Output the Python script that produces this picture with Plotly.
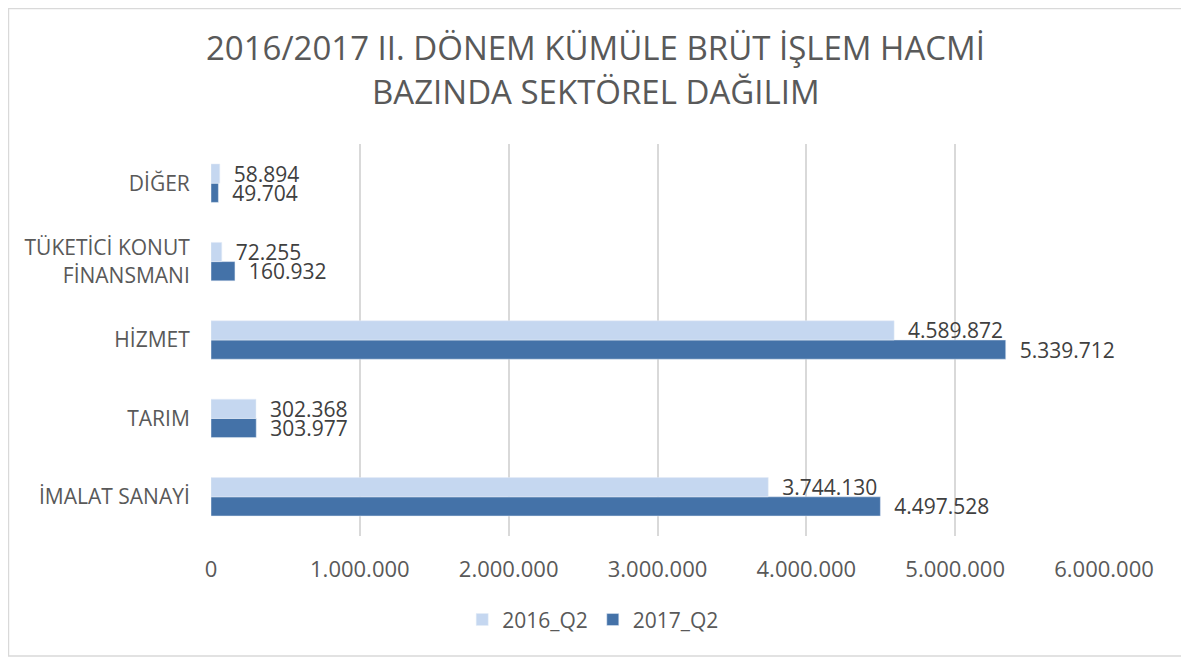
import plotly.graph_objects as go

categories = ["İMALAT SANAYİ", "TARIM", "HİZMET", "TÜKETİCİ KONUT<br>FİNANSMANI", "DİĞER"]
values_2016 = [3744130, 302368, 4589872, 72255, 58894]
values_2017 = [4497528, 303977, 5339712, 160932, 49704]
tick_vals = [0, 1000000, 2000000, 3000000, 4000000, 5000000, 6000000]
title_lines = ["2016/2017 II. DÖNEM KÜMÜLE BRÜT İŞLEM HACMİ", "BAZINDA SEKTÖREL DAĞILIM"]

FONT = "Open Sans"
GREY = "#595959"
FS = 21

fig = go.Figure()
fig.add_trace(go.Bar(
    y=categories, x=values_2017, name="2017_Q2", orientation="h",
    marker_color="#4472a8", texttemplate="\u00a0\u00a0%{x:,}", textposition="outside",
    constraintext="none",
    textfont=dict(family=FONT, size=FS, color="#404040"), cliponaxis=False,
    legendrank=2,
))
fig.add_trace(go.Bar(
    y=categories, x=values_2016, name="2016_Q2", orientation="h",
    marker_color="#c5d7f0", texttemplate="\u00a0\u00a0%{x:,}", textposition="outside",
    constraintext="none",
    textfont=dict(family=FONT, size=FS, color="#404040"), cliponaxis=False,
    legendrank=1,
))

W, H = 1175, 650
L, R, T, B = 203, 79, 136, 122

fig.update_layout(
    width=W, height=H,
    separators=",.",
    barmode="group", bargap=0.51, bargroupgap=0,
    plot_bgcolor="white", paper_bgcolor="white",
    margin=dict(l=L, r=R, t=T, b=B, autoexpand=False),
    font=dict(family=FONT, color=GREY, size=FS),
    xaxis=dict(
        range=[0, 6000000], tickvals=tick_vals, tickformat=",",
        showgrid=True, gridcolor="#d9d9d9", gridwidth=1.5,
        zeroline=False, showline=False,
        ticks="outside", ticklen=14, tickcolor="rgba(0,0,0,0)",
        tickfont=dict(family=FONT, size=22, color=GREY),
    ),
    yaxis=dict(
        showgrid=False, zeroline=False, showline=False,
        ticks="outside", ticklen=16, tickcolor="rgba(0,0,0,0)",
        tickfont=dict(family=FONT, size=FS, color=GREY),
    ),
    legend=dict(
        orientation="h", x=0.428, xanchor="center", y=-0.214, yanchor="middle",
        font=dict(family=FONT, size=FS, color=GREY),
    ),
    showlegend=True,
)

title_y_px = [39, 84]
for line, ypx in zip(title_lines, title_y_px):
    fig.add_annotation(
        text=line, xref="paper", yref="paper",
        x=(W / 2 - L) / (W - L - R), y=(H - B - ypx) / (H - T - B),
        xanchor="center", yanchor="middle", showarrow=False,
        font=dict(family=FONT, size=33, color=GREY),
    )

fig.add_shape(type="rect", xref="paper", yref="paper",
              x0=-0.2268, x1=1.0874, y0=-0.306, y1=1.3457,
              line=dict(color="#d9d9d9", width=1.5), fillcolor="rgba(0,0,0,0)")

fig.write_html("out.html")
